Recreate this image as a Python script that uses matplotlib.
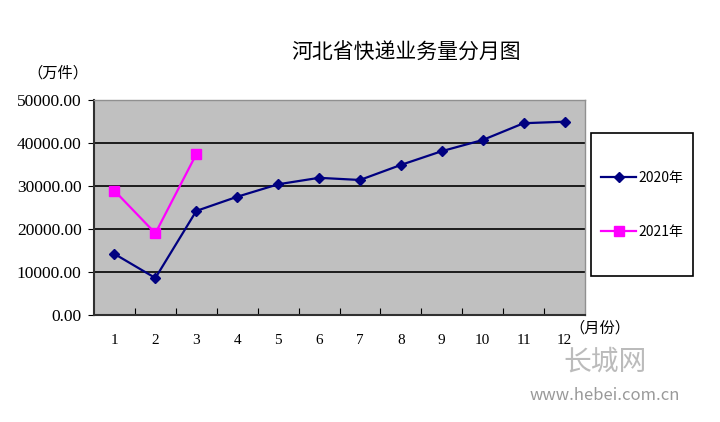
import matplotlib.pyplot as plt
import numpy as np
from matplotlib.patches import Rectangle

plt.rcParams['font.family'] = ['Noto Sans CJK SC', 'DejaVu Sans']

# data (万件)
months = ['1', '2', '3', '4', '5', '6', '7', '8', '9', '10', '11', '12']
y2020 = [14200, 8600, 24200, 27500, 30400, 31900, 31400, 34900, 38100, 40700, 44600, 44950]
y2021 = [28900, 19000, 37400]
yticks = [0, 10000, 20000, 30000, 40000, 50000]

fig = plt.figure(figsize=(7.2, 4.22), dpi=100)
ax = fig.add_axes([94/720, 1 - 315/422, 491/720, 215/422])
ax.set_facecolor('#c0c0c0')

x = np.arange(1, len(months) + 1)
ax.plot(x, y2020, color='#000080', marker='D', markersize=5.5, lw=1.6, label='2020年')
ax.plot(x[:len(y2021)], y2021, color='#ff00ff', marker='s', markersize=7, lw=1.6, label='2021年')

ax.set_xlim(0.5, 12.5)
ax.set_ylim(0, 50000)
ax.set_yticks(yticks)
ax.set_yticklabels(['%.2f' % v for v in yticks], family='Liberation Serif', fontsize=12.5)
for v in yticks[1:-1]:
    ax.axhline(v, color='black', lw=1.2, zorder=1)

# category ticks between months, labels centered
ax.set_xticks(np.arange(1.5, 12.5, 1))
ax.set_xticklabels([])
ax.tick_params(axis='x', direction='in', length=5, color='black')
ax.tick_params(axis='y', direction='out', length=4, pad=5)
for i, m in enumerate(months):
    ax.text(i + 1, -4500, m, ha='center', va='top', family='Liberation Serif', fontsize=11)

for s in ['left', 'bottom']:
    ax.spines[s].set_color('#303030')
    ax.spines[s].set_linewidth(1.5)
for s in ['top', 'right']:
    ax.spines[s].set_color('#909090')
    ax.spines[s].set_linewidth(1.0)

fig.text(406/720, 1 - 53/422, '河北省快递业务量分月图', ha='center', va='center', fontsize=15)
fig.text(58/720, 1 - 73/422, '（万件）', ha='center', va='center', fontsize=11)
fig.text(600/720, 1 - 328/422, '（月份）', ha='center', va='center', fontsize=11)

# legend box
fig.patches.append(Rectangle((591/720, 1 - 276/422), 102/720, 143/422, transform=fig.transFigure,
                             facecolor='white', edgecolor='black', lw=1.2))
leg = fig.legend(loc='center', bbox_to_anchor=(642/720, 1 - 205/422), frameon=False,
                 fontsize=10, labelspacing=2.9, handlelength=2.5, handletextpad=0.15,
                 borderaxespad=0)

# watermark
fig.text(605/720, 1 - 362/422, '长城网', ha='center', va='center', fontsize=20, color='#bbbbbb')
fig.text(605/720, 1 - 395/422, 'www.hebei.com.cn', ha='center', va='center', fontsize=12, color='#999999')

fig.savefig('out.png', dpi=100)
